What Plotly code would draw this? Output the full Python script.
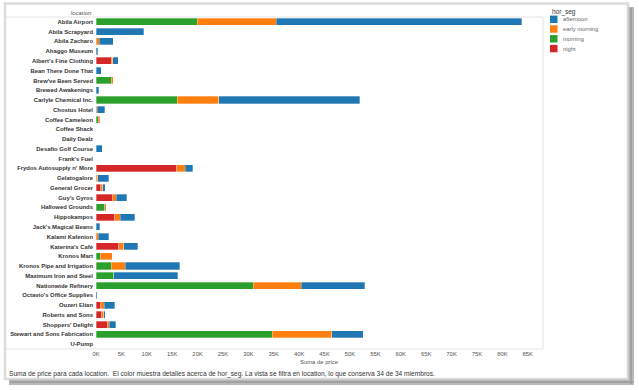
import plotly.graph_objects as go

# ---------------- data ----------------
locations = [
    "Abila Airport", "Abila Scrapyard", "Abila Zacharo", "Ahaggo Museum",
    "Albert's Fine Clothing", "Bean There Done That", "Brew've Been Served",
    "Brewed Awakenings", "Carlyle Chemical Inc.", "Chostus Hotel",
    "Coffee Cameleon", "Coffee Shack", "Daily Dealz", "Desafio Golf Course",
    "Frank's Fuel", "Frydos Autosupply n' More", "Gelatogalore",
    "General Grocer", "Guy's Gyros", "Hallowed Grounds", "Hippokampos",
    "Jack's Magical Beans", "Kalami Kafenion", "Katerina's Café",
    "Kronos Mart", "Kronos Pipe and Irrigation", "Maximum Iron and Steel",
    "Nationwide Refinery", "Octavio's Office Supplies", "Ouzeri Elian",
    "Roberts and Sons", "Shoppers' Delight", "Stewart and Sons Fabrication",
    "U-Pump",
]

night = [None, None, None, None, 3000, None, None, None, None, None,
         None, None, None, None, None, 15850, None, 900, 3300, None, 3650,
         None, None, 4450, None, None, None, None, None, 900, 1100, 2250,
         None, None]
morning = [19900, None, None, None, None, None, 3050, None, 16000, None,
           450, None, None, None, None, None, None, None, None, 1700, None,
           None, None, None, 800, 3000, 3450, 31000, None, None, None, None,
           34700, None]
early_morning = [15600, None, 600, None, 300, None, 350, None, 8200, 200,
                 250, None, None, None, None, 1750, 300, 400, 700, 300, 1100,
                 None, 450, 1050, 2400, 2800, None, 9400, None, 700, 400, 400,
                 11700, None]
afternoon = [48300, 9400, 2800, 350, 1100, 1000, None, 550, 27700, 1500,
             None, None, None, 1200, None, 1400, 2200, 500, 2100, None, 2900,
             700, 2050, 2700, None, 10700, 12650, 12500, 250, 2050, 350, 1200,
             6200, None]

series_names = ["afternoon", "early morning", "morning", "night"]
series_colors = ["#1f77b4", "#ff7f0e", "#2ca02c", "#d62728"]

x_tick_vals = [0, 5000, 10000, 15000, 20000, 25000, 30000, 35000, 40000,
               45000, 50000, 55000, 60000, 65000, 70000, 75000, 80000, 85000]
x_tick_text = ["0K", "5K", "10K", "15K", "20K", "25K", "30K", "35K", "40K",
               "45K", "50K", "55K", "60K", "65K", "70K", "75K", "80K", "85K"]

footer = ("Suma de price para cada location.  El color muestra detalles acerca de "
          "hor_seg. La vista se filtra en location, lo que conserva 34 de 34 miembros.")

# ---------------- layout geometry ----------------
W, H = 639, 390
ML, MR, MT, MB = 96, 96, 17, 41
PW, PH = W - ML - MR, H - MT - MB


def px(x):
    return (x - ML) / PW


def py(y):
    return 1 - (y - MT) / PH


FONT = "Liberation Sans, Arial, sans-serif"

fig = go.Figure()

values_by_name = {
    "night": night,
    "morning": morning,
    "early morning": early_morning,
    "afternoon": afternoon,
}
color_by_name = dict(zip(series_names, series_colors))

# stacking order left -> right
for name in ["night", "morning", "early morning", "afternoon"]:
    fig.add_trace(go.Bar(
        y=locations, x=values_by_name[name], name=name, orientation="h",
        marker=dict(color=color_by_name[name],
                    line=dict(color="rgba(255,255,255,0.45)", width=0.7)),
        width=0.72, showlegend=False, hoverinfo="skip",
    ))

shapes = []
annotations = []

# outer frame + shadow
shapes.append(dict(type="rect", xref="paper", yref="paper",
                   x0=px(5), x1=px(628), y0=py(3.5), y1=py(379),
                   line=dict(color="#dcdcdc", width=2.5), fillcolor="rgba(0,0,0,0)"))
shapes.append(dict(type="rect", xref="paper", yref="paper",
                   x0=px(628.5), x1=px(634), y0=py(7), y1=py(385),
                   line=dict(width=0), fillcolor="#b9b9b9"))
shapes.append(dict(type="rect", xref="paper", yref="paper",
                   x0=px(9), x1=px(634), y0=py(379.5), y1=py(385),
                   line=dict(width=0), fillcolor="#b9b9b9"))
shapes.append(dict(type="line", xref="paper", yref="paper",
                   x0=px(631), x1=px(631), y0=py(8), y1=py(384),
                   line=dict(color="#9a9a9a", width=1.5)))
shapes.append(dict(type="line", xref="paper", yref="paper",
                   x0=px(10), x1=px(633), y0=py(382), y1=py(382),
                   line=dict(color="#9a9a9a", width=1.5)))

# pane lines
shapes.append(dict(type="line", xref="paper", yref="paper",
                   x0=px(6), x1=px(543), y0=py(17), y1=py(17),
                   line=dict(color="#e4e4e4", width=1)))
shapes.append(dict(type="line", xref="paper", yref="paper",
                   x0=px(6), x1=px(543), y0=py(349), y1=py(349),
                   line=dict(color="#e4e4e4", width=1)))
shapes.append(dict(type="line", xref="paper", yref="paper",
                   x0=px(543), x1=px(543), y0=py(17), y1=py(349),
                   line=dict(color="#e4e4e4", width=1)))

# legend (manual, compact like Tableau)
annotations.append(dict(xref="paper", yref="paper", x=px(549.5), y=py(12),
                        text="hor_seg", showarrow=False, xanchor="left",
                        yanchor="middle", font=dict(family=FONT, size=6.5, color="#333")))
leg_y = [19.3, 29.0, 38.8, 48.6]
for name, col, yy in zip(series_names, series_colors, leg_y):
    shapes.append(dict(type="rect", xref="paper", yref="paper",
                       x0=px(550), x1=px(557.5), y0=py(yy - 3.7), y1=py(yy + 3.7),
                       line=dict(width=0), fillcolor=col))
    annotations.append(dict(xref="paper", yref="paper", x=px(561), y=py(yy),
                            text=name, showarrow=False, xanchor="left",
                            yanchor="middle", font=dict(family=FONT, size=5.8, color="#666")))

# header "location"
annotations.append(dict(xref="paper", yref="paper", x=px(92.5), y=py(13),
                        text="location", showarrow=False, xanchor="right",
                        yanchor="middle", font=dict(family=FONT, size=5.9, color="#555")))

# x axis title
annotations.append(dict(xref="paper", yref="paper", x=px(319.5), y=py(361.5),
                        text="Suma de price", showarrow=False, xanchor="center",
                        yanchor="middle", font=dict(family=FONT, size=5.9, color="#555")))

# footer
annotations.append(dict(xref="paper", yref="paper", x=px(6.5), y=py(373.5),
                        text=footer, showarrow=False, xanchor="left",
                        yanchor="middle", font=dict(family=FONT, size=6.6, color="#333")))

fig.update_layout(
    width=W, height=H,
    margin=dict(l=ML, r=MR, t=MT, b=MB, pad=0),
    barmode="stack",
    hovermode=False,
    paper_bgcolor="white", plot_bgcolor="white",
    showlegend=False,
    shapes=shapes, annotations=annotations,
    xaxis=dict(range=[0, 88000], tickvals=x_tick_vals, ticktext=x_tick_text,
               showgrid=False, zeroline=False, showline=False, ticks="",
               tickfont=dict(family=FONT, size=5.9, color="#555"), fixedrange=True),
    yaxis=dict(categoryorder="array", categoryarray=locations,
               range=[len(locations) - 0.5, -0.5], showgrid=False,
               zeroline=False, showline=False, ticks="", automargin=False,
               ticklabelstandoff=2,
               tickfont=dict(family=FONT, size=5.9, color="#333", weight="bold"),
               fixedrange=True),
)

fig.write_html("out.html", config={"displayModeBar": False},
               post_script="document.body.style.margin='0';")
